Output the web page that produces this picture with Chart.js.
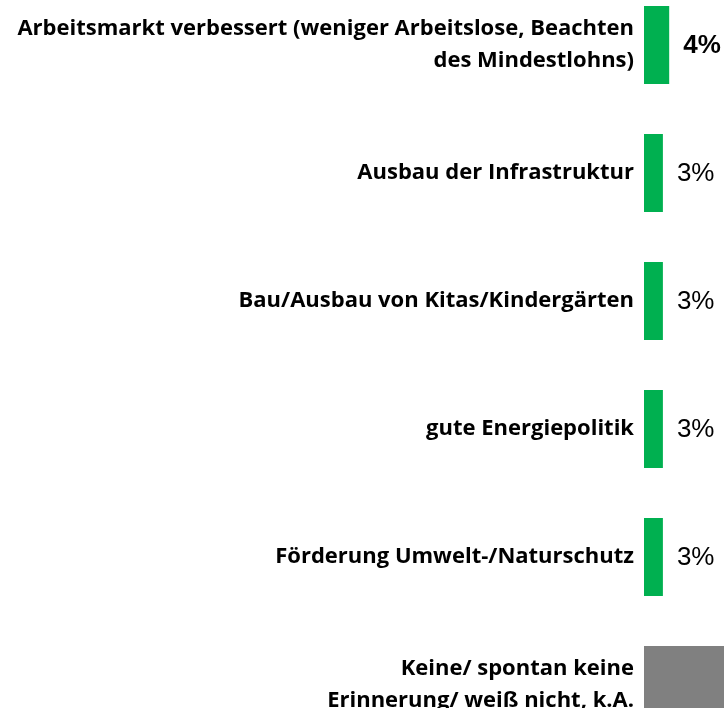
<!DOCTYPE html>
<html>
<head>
<meta charset="utf-8">
<script src="https://cdn.jsdelivr.net/npm/chart.js@4"></script>
<style>
  html, body { margin: 0; padding: 0; background: #fff; overflow: hidden; width: 724px; height: 708px; }
  #chart { position: absolute; left: 0; top: -19px; }
</style>
</head>
<body>
<canvas id="chart" width="724" height="768"></canvas>
<script>
// Kategorien (mehrzeilig wie im Original)
const categories = [
  ['Arbeitsmarkt verbessert (weniger Arbeitslose, Beachten', 'des Mindestlohns)'],
  'Ausbau der Infrastruktur',
  'Bau/Ausbau von Kitas/Kindergärten',
  'gute Energiepolitik',
  'Förderung Umwelt-/Naturschutz',
  ['Keine/ spontan keine', 'Erinnerung/ weiß nicht, k.A.']
];
// Werte in Prozent (letzter Balken ist im Bild abgeschnitten, Wert geschätzt)
const values = [4, 3, 3, 3, 3, 30];
const valueLabels = ['4%', '3%', '3%', '3%', '3%', '30%'];
const barColors = ['#00B050', '#00B050', '#00B050', '#00B050', '#00B050', '#808080'];

// Wertbeschriftung rechts neben dem Balken
const valueLabelPlugin = {
  id: 'valueLabels',
  afterDatasetsDraw(chart) {
    const ctx = chart.ctx;
    const meta = chart.getDatasetMeta(0);
    ctx.save();
    ctx.fillStyle = '#000';
    ctx.textAlign = 'left';
    ctx.textBaseline = 'middle';
    meta.data.forEach((bar, i) => {
      const x = bar.x + 14;
      if (x > chart.width) return;
      ctx.font = (i === 0 ? 'bold ' : '') + '26px "Liberation Sans", Arial, sans-serif';
      ctx.fillText(valueLabels[i], x, bar.y + 1);
    });
    ctx.restore();
  }
};

new Chart(document.getElementById('chart').getContext('2d'), {
  type: 'bar',
  data: {
    labels: categories,
    datasets: [{
      data: values,
      backgroundColor: barColors,
      borderWidth: 0,
      categoryPercentage: 1,
      barPercentage: 0.61
    }]
  },
  options: {
    indexAxis: 'y',
    responsive: false,
    animation: false,
    layout: { padding: 0 },
    plugins: {
      legend: { display: false },
      tooltip: { enabled: false }
    },
    scales: {
      x: {
        display: false,
        min: 0,
        max: 12.7
      },
      y: {
        grid: { display: false },
        border: { display: false },
        afterFit: (s) => {
          s.width = 644;
          s.paddingTop = 0;
          s.paddingBottom = 0;
        },
        ticks: {
          padding: 2,
          color: '#000',
          font: { family: '"Open Sans", sans-serif', size: 22, weight: 'bold', lineHeight: 1.45 }
        }
      }
    }
  },
  plugins: [valueLabelPlugin]
});
</script>
</body>
</html>
